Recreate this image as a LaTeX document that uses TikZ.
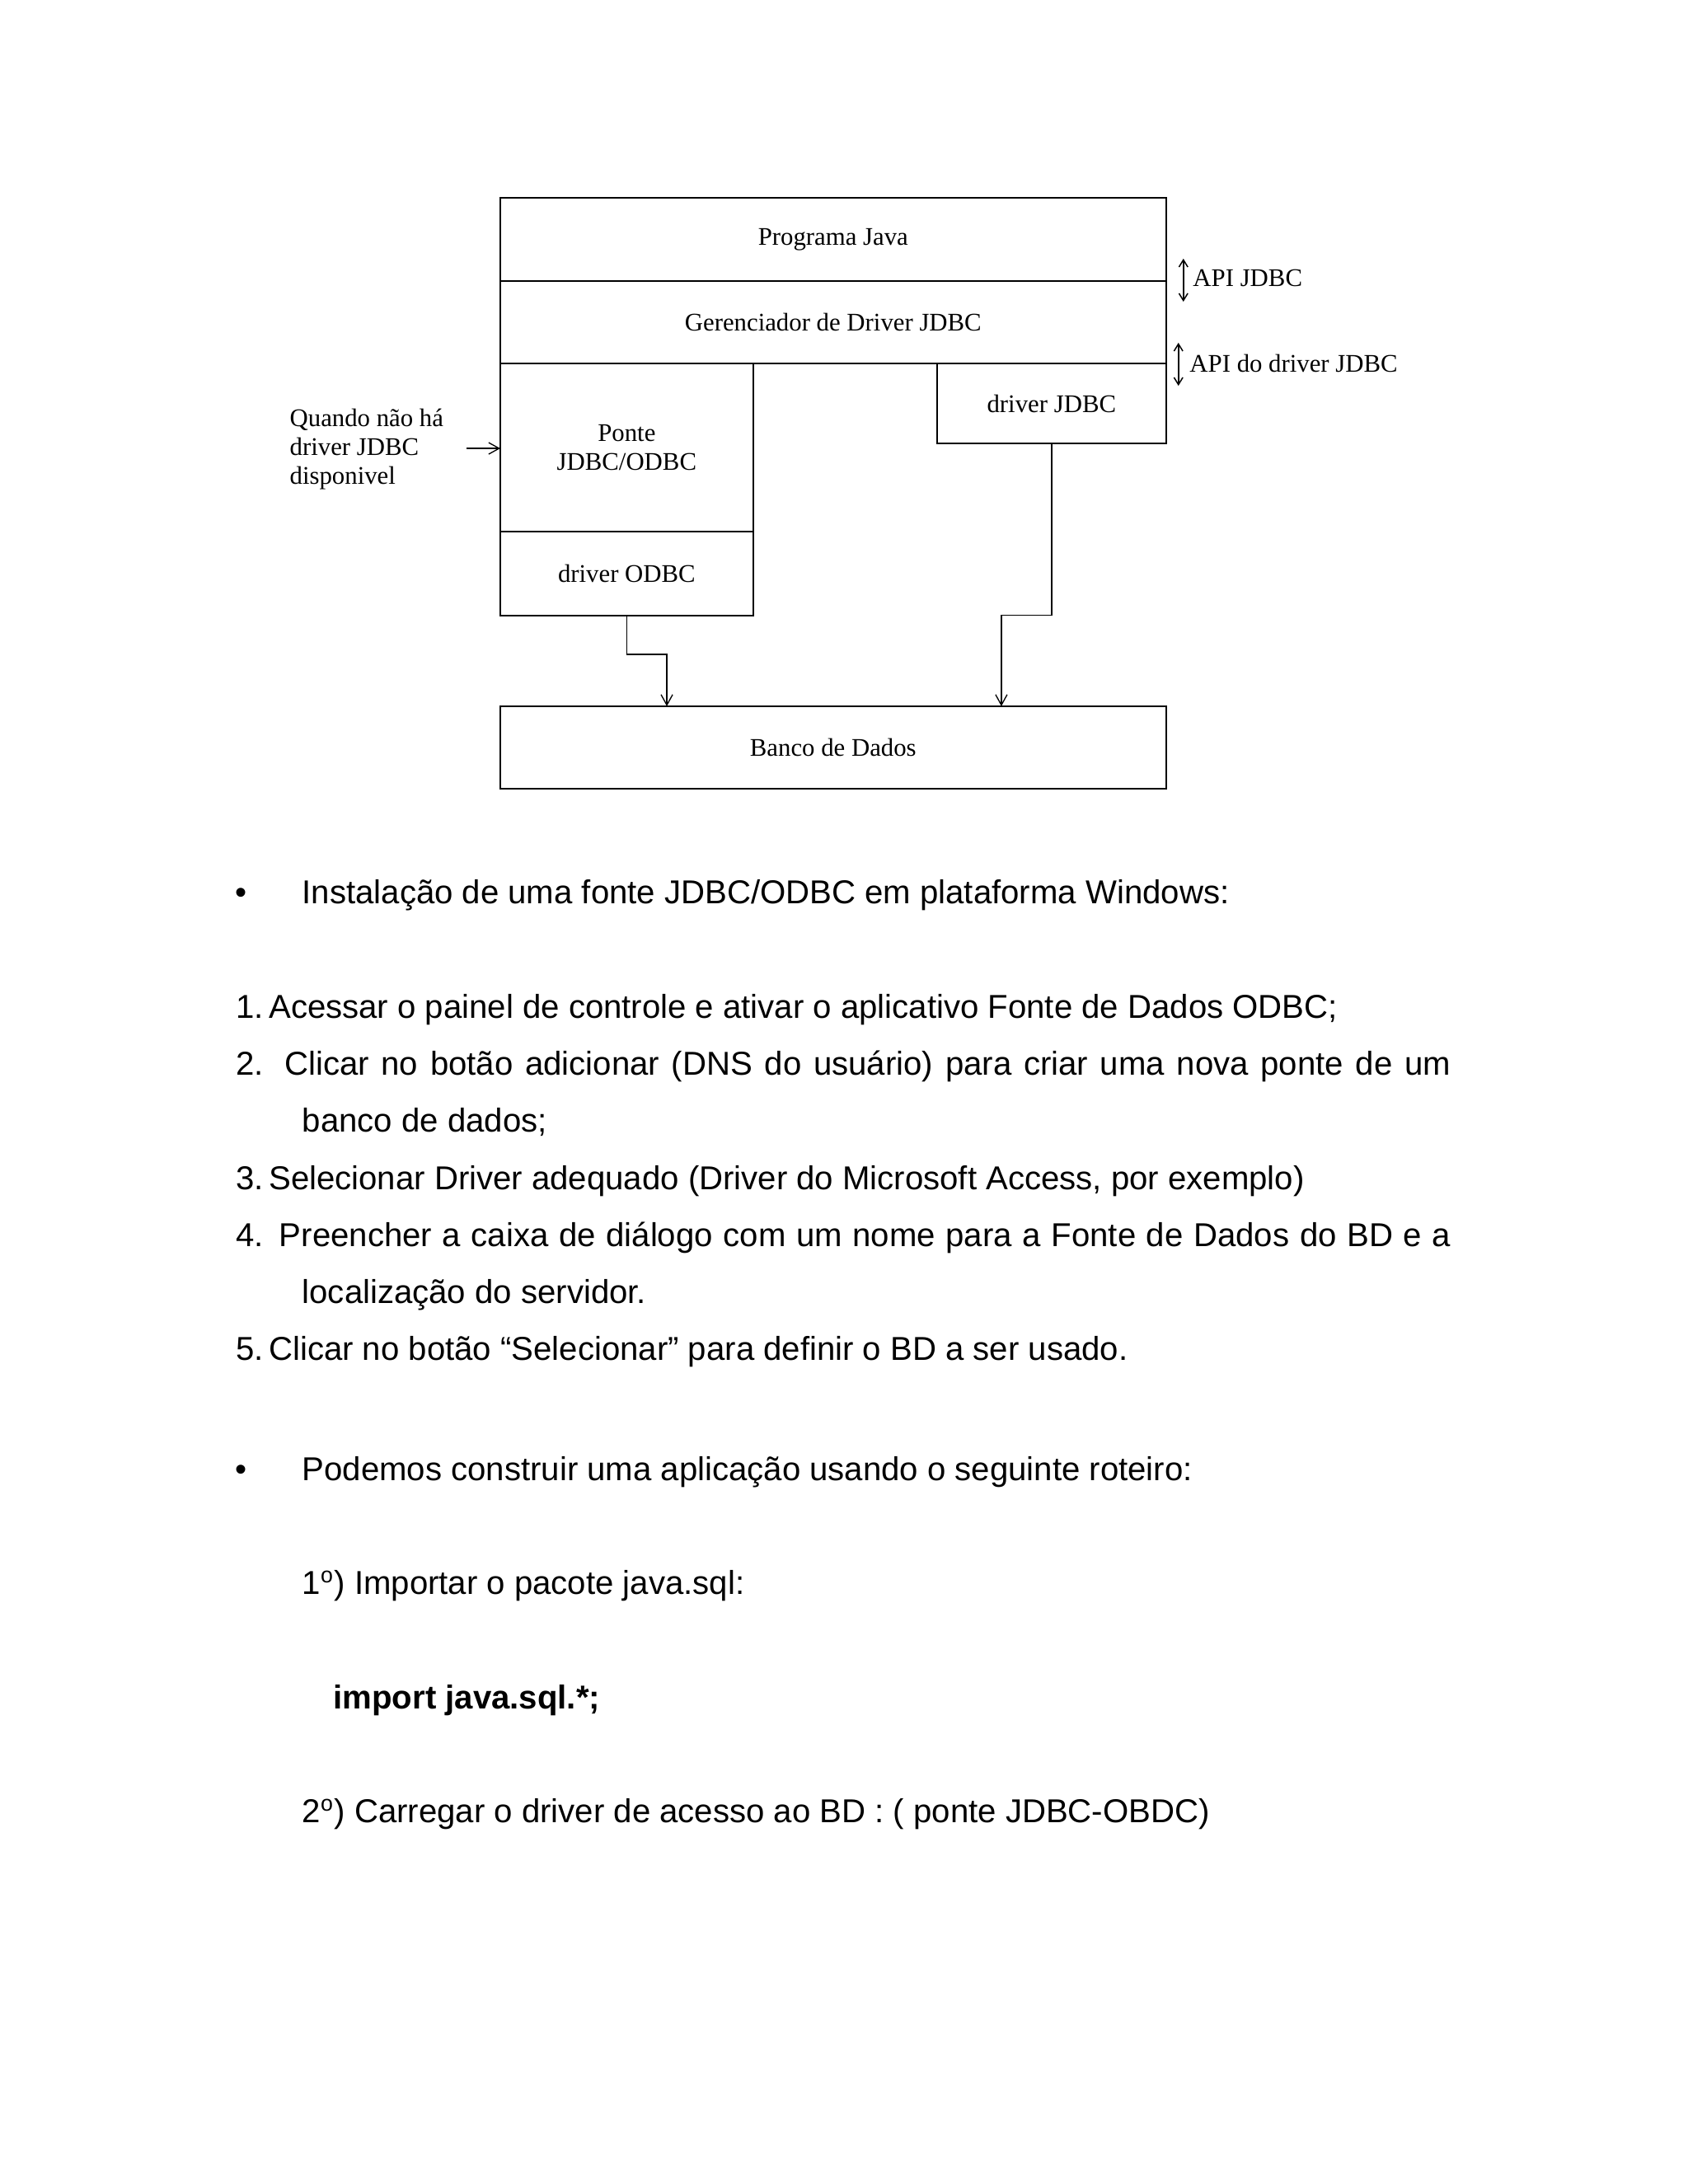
\documentclass[tikz,border=0pt]{standalone}
\usepackage{fontspec}
\setmainfont{Liberation Sans}
\newfontfamily\serifdiag{Liberation Serif}
\usetikzlibrary{arrows.meta, positioning, calc}

\begin{document}
\begin{tikzpicture}[x=1pt, y=-1pt,
    camada/.style={rectangle, draw, line width=0.6pt, inner sep=0pt, outer sep=0pt, align=center, font=\serifdiag\fontsize{9.2}{10.6}\selectfont},
    rotulo/.style={inner sep=0pt, anchor=west, align=left, font=\serifdiag\fontsize{9.2}{10.4}\selectfont},
    seta/.style={-{Straight Barb[length=3.8pt,width=4.2pt]}, line width=0.4pt},
    dupla/.style={{Straight Barb[length=2.6pt,width=3.2pt]}-{Straight Barb[length=2.6pt,width=3.2pt]}, line width=0.45pt},
    corpo/.style={inner sep=0pt, anchor=base west, font=\fontsize{12}{14}\selectfont}
  ]
  \useasboundingbox[fill=white] (0,0) rectangle (612,792);

  % Camadas do diagrama
  \node[camada, minimum width=241.4pt, minimum height=30.2pt] (prog) at (302.1,86.8) {Programa Java};
  \node[camada, minimum width=241.4pt, minimum height=29.9pt] (ger) at (302.1,116.85) {Gerenciador de Driver JDBC};
  \node[camada, minimum width=91.7pt, minimum height=60.9pt] (ponte) at (227.25,162.25) {Ponte\\JDBC/ODBC};
  \node[camada, minimum width=91.7pt, minimum height=30.5pt] (odbc) at (227.25,207.95) {driver ODBC};
  \node[camada, minimum width=83pt, minimum height=29pt] (jdbc) at (381.3,146.3) {driver JDBC};
  \node[camada, minimum width=241.4pt, minimum height=29.9pt] (banco) at (302.1,271.05) {Banco de Dados};

  % Rotulos laterais
  \node[rotulo] (apijdbc) at (432.4,101) {API JDBC};
  \node[rotulo] (apidrv) at (431.2,131.8) {API do driver JDBC};
  \node[rotulo] (quando) at (104.9,162.9) {Quando não há\\driver JDBC\\disponivel};

  % Conexoes
  \coordinate (jog1) at (241.8,237.3);
  \coordinate (jog2) at (363.1,223.2);
  \coordinate (qseta) at (169.1,162.6);
  \draw[seta] (odbc.south) |- (jog1) -- (jog1 |- banco.north);
  \draw[seta] (jdbc.south) |- (jog2) -- (jog2 |- banco.north);
  \draw[seta] (qseta) -- (qseta -| ponte.west);
  \draw[dupla] (429.1,93.8) -- (429.1,109.4);
  \draw[dupla] (427.3,124.3) -- (427.3,139.9);

  % Texto
  \node[corpo, anchor=base] (bul1) at (87.5,327.8) {•};
  \node[corpo] (inst) at (109.4,327.8) {Instalação de uma fonte JDBC/ODBC em plataforma Windows:};
  \node[corpo] (it1) at (85.3,369.3) {1.\,Acessar o painel de controle e ativar o aplicativo Fonte de Dados ODBC;};
  \node[corpo] (it2) at (85.3,390.0) {\makebox[440.6pt][s]{2. Clicar no botão adicionar (DNS do usuário) para criar uma nova ponte de um}};
  \node[corpo] (it2b) at (109.4,410.6) {banco de dados;};
  \node[corpo] (it3) at (85.3,431.5) {3.\,Selecionar Driver adequado (Driver do Microsoft Access, por exemplo)};
  \node[corpo] (it4) at (85.3,452.1) {\makebox[440.6pt][s]{4. Preencher a caixa de diálogo com um nome para a Fonte de Dados do BD e a}};
  \node[corpo] (it4b) at (109.4,472.7) {localização do servidor.};
  \node[corpo] (it5) at (85.3,493.4) {5.\,Clicar no botão “Selecionar” para definir o BD a ser usado.};
  \node[corpo, anchor=base] (bul2) at (87.5,537.0) {•};
  \node[corpo] (rot) at (109.4,537.0) {Podemos construir uma aplicação usando o seguinte roteiro:};
  \node[corpo] (p1) at (109.4,578.2) {1\textsuperscript{o}) Importar o pacote java.sql:};
  \node[corpo, font=\bfseries\fontsize{12}{14}\selectfont] (imp) at (120.7,619.8) {import java.sql.*;};
  \node[corpo] (p2) at (109.4,661.0) {2\textsuperscript{o}) Carregar o driver de acesso ao BD : ( ponte JDBC-OBDC)};
\end{tikzpicture}
\end{document}
